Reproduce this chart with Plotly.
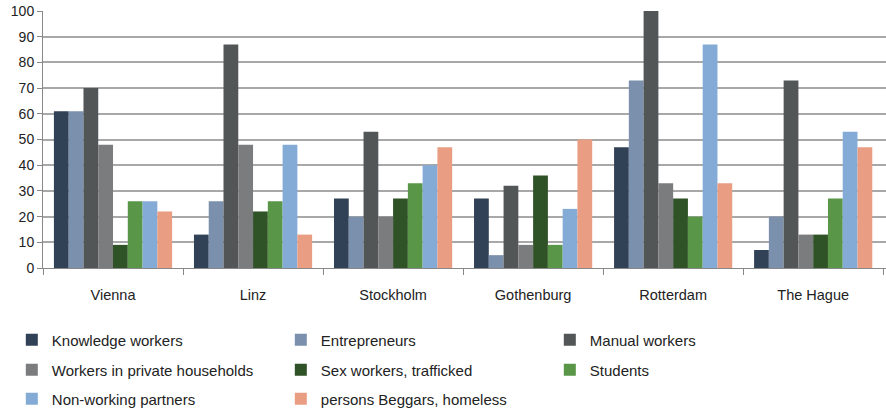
import plotly.graph_objects as go

cities = ["Vienna", "Linz", "Stockholm", "Gothenburg", "Rotterdam", "The Hague"]
series_names = ["Knowledge workers", "Entrepreneurs", "Manual workers",
                "Workers in private households", "Sex workers, trafficked", "Students",
                "Non-working partners", "persons Beggars, homeless"]
knowledge = [61, 13, 27, 27, 47, 7]
entrepreneurs = [61, 26, 20, 5, 73, 20]
manual = [70, 87, 53, 32, 100, 73]
households = [48, 48, 20, 9, 33, 13]
sex_workers = [9, 22, 27, 36, 27, 13]
students = [26, 26, 33, 9, 20, 27]
partners = [26, 48, 40, 23, 87, 53]
beggars = [22, 13, 47, 50, 33, 47]
values = [knowledge, entrepreneurs, manual, households, sex_workers, students, partners, beggars]
colors = ["#324256", "#7a90ac", "#525657", "#7b7c7e", "#2f5227", "#5a9647", "#84abd6", "#e99d83"]
legend_ids = ["legend", "legend", "legend", "legend2", "legend2", "legend2", "legend3", "legend3"]
y_ticks = list(range(0, 101, 10))

font = "Liberation Sans"
fig = go.Figure()
for name, vals, col, lg in zip(series_names, values, colors, legend_ids):
    fig.add_trace(go.Bar(x=cities, y=vals, name=name, marker=dict(color=col, line=dict(width=0)),
                         legend=lg))

leg_common = dict(orientation="h", xanchor="left", yanchor="middle", x=-0.037,
                  entrywidth=224, entrywidthmode="pixels", itemwidth=30,
                  font=dict(family=font, size=15, color="#222"), bgcolor="rgba(0,0,0,0)",
                  traceorder="normal", itemclick=False)
fig.update_layout(
    width=886, height=411,
    margin=dict(l=43, r=0, t=11, b=143, autoexpand=False),
    paper_bgcolor="white", plot_bgcolor="white",
    barmode="group", bargap=0.156, bargroupgap=0,
    font=dict(family=font, size=14, color="#222"),
    legend=dict(leg_common, y=-0.28),
    legend2=dict(leg_common, y=-0.397),
    legend3=dict(leg_common, y=-0.51),
    xaxis=dict(type="category", showline=True, linecolor="#888", linewidth=1,
               ticks="outside", tickson="boundaries", ticklen=6, tickcolor="#888",
               tickfont=dict(family=font, size=14.5, color="#222"), ticklabelstandoff=14,
               showgrid=False, range=[-0.5, 5.52]),
    yaxis=dict(range=[0, 100], tickvals=y_ticks, showline=True, linecolor="#888", linewidth=1,
               ticks="outside", ticklen=5, tickcolor="#888", showgrid=True,
               gridcolor="#a8a8a8", gridwidth=1.5, zeroline=False,
               tickfont=dict(family=font, size=14, color="#222")),
)
fig.write_html("out.html")
